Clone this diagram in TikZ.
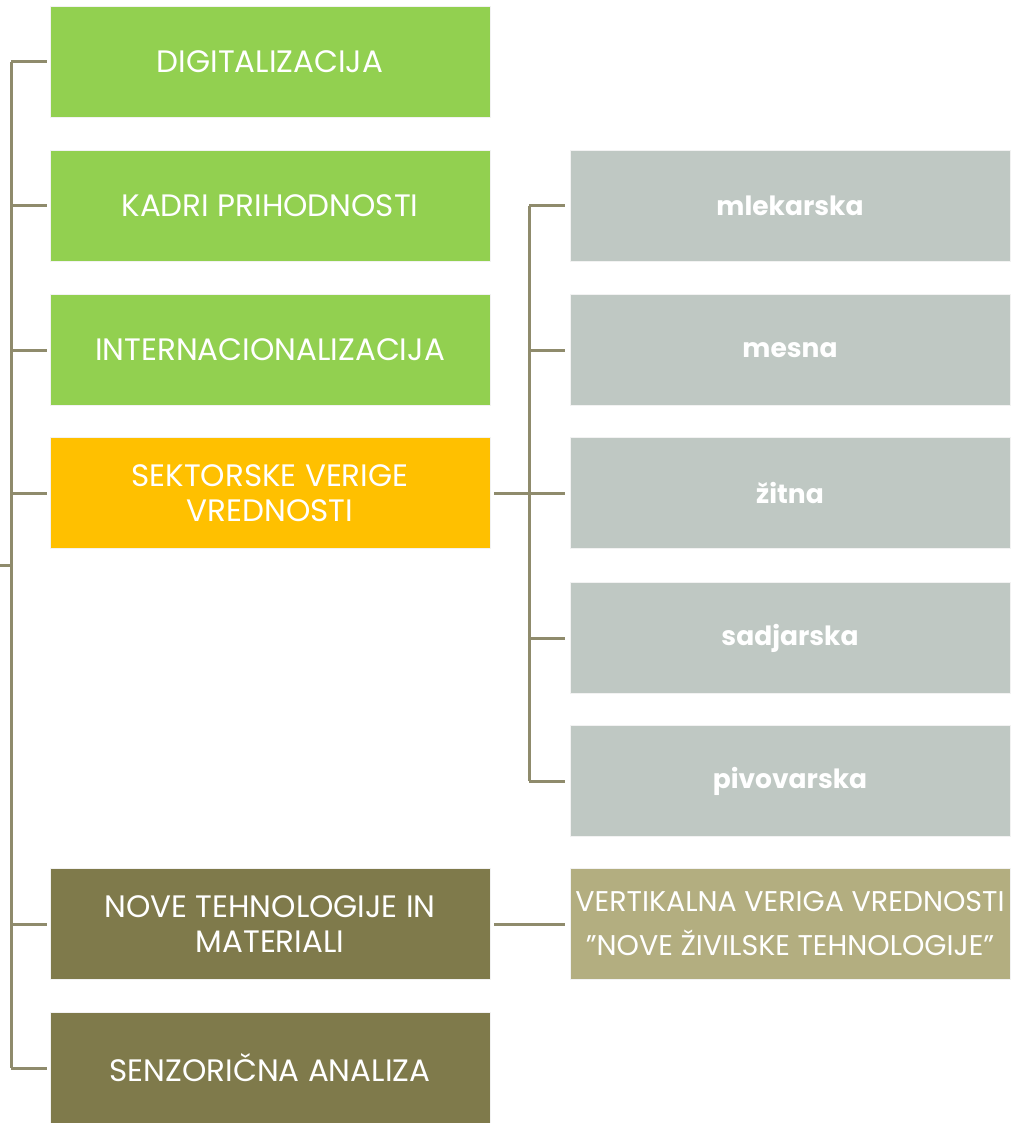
\documentclass[tikz,border=0pt]{standalone}
\usepackage{fontspec}
\setmainfont{Poppins}
\definecolor{cgreen}{HTML}{92D050}
\definecolor{corange}{HTML}{FFC000}
\definecolor{cgray}{HTML}{BFC8C3}
\definecolor{colive}{HTML}{7F7A4B}
\definecolor{clight}{HTML}{B3AE80}
\definecolor{cline}{HTML}{8F8B6C}
\begin{document}
\begin{tikzpicture}[x=1pt,y=-1pt,
  box/.style={draw=white!95!black,line width=0.5pt,minimum width=440pt,minimum height=111pt,inner sep=0pt,text=white,align=center,font=\fontsize{31}{35}\selectfont},
  lbox/.style={box,fill=cgray,font=\fontsize{26.5}{34}\selectfont\bfseries},
  conn/.style={draw=cline,line width=3pt}]
\useasboundingbox (0,0) rectangle (1011,1123);
% left column
\node[box,fill=cgreen] (a) at (270,62) {DIGITALIZACIJA};
\node[box,fill=cgreen] (b) at (270,206) {KADRI PRIHODNOSTI};
\node[box,fill=cgreen] (c) at (270,350) {INTERNACIONALIZACIJA};
\node[box,fill=corange] (d) at (270,493) {SEKTORSKE VERIGE\\VREDNOSTI};
\node[box,fill=colive] (e) at (270,924) {NOVE TEHNOLOGIJE IN\\MATERIALI};
\node[box,fill=colive] (f) at (270,1068) {SENZORIČNA ANALIZA};
% right column
\node[lbox] (r1) at (790,206) {mlekarska};
\node[lbox] (r2) at (790,350) {mesna};
\node[lbox] (r3) at (790,493) {žitna};
\node[lbox] (r4) at (790,638) {sadjarska};
\node[lbox] (r5) at (790,781) {pivovarska};
\node[box,fill=clight,font=\fontsize{28.5}{44}\selectfont] (r6) at (790,924) {VERTIKALNA VERIGA VREDNOSTI\\"NOVE ŽIVILSKE TEHNOLOGIJE"};
% left trunk
\coordinate (root) at (0,565);
\coordinate (tl) at (11,62);
\coordinate (bl) at (11,1068);
\draw[conn] (tl) -- (bl);
\draw[conn] (root) -- (11,565);
\foreach \n in {a,b,c,d,e,f} \draw[conn] (11,0 |- \n.west) -- ([xshift=-3pt]\n.west);
% right trunk
\coordinate (tr) at (529,206);
\coordinate (br) at (529,781);
\draw[conn] (tr) -- (br);
\draw[conn] ([xshift=4pt]d.east) -- ([xshift=-5pt]r3.west);
\foreach \n in {r1,r2,r4,r5} \draw[conn] (529,0 |- \n.west) -- ([xshift=-5pt]\n.west);
\draw[conn] ([xshift=4pt]e.east) -- ([xshift=-5pt]r6.west);
\end{tikzpicture}
\end{document}
